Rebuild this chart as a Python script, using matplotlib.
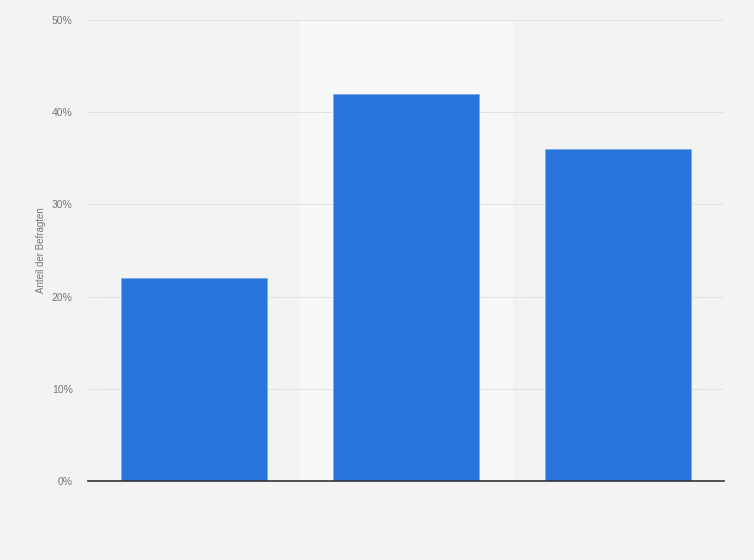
import matplotlib
matplotlib.use("Agg")
import matplotlib.pyplot as plt
from matplotlib.ticker import FuncFormatter

plt.rcParams["font.family"] = ["Liberation Sans", "DejaVu Sans"]

categories = ["A", "B", "C"]
values = [22, 42, 36]
yticks = [0, 10, 20, 30, 40, 50]

bg = "#f3f3f3"
fig = plt.figure(figsize=(7.54, 5.6), dpi=100, facecolor=bg)
ax = fig.add_axes([88/754, 1-481/560, (724-88)/754, (481-20)/560])
ax.set_facecolor(bg)

x = list(range(len(categories)))
ax.axvspan(0.5, 1.5, color="#f8f8f8", zorder=0)
ax.bar(x, values, width=0.69, color="#2775db", edgecolor="#7aaaea", linewidth=0.5, zorder=3)

ax.set_xlim(-0.5, 2.5)
ax.set_ylim(0, 50)
ax.set_yticks(yticks)
ax.yaxis.set_major_formatter(FuncFormatter(lambda v, p: f"{int(v)}%"))
ax.set_xticks([])
ax.tick_params(axis="y", length=0, pad=11, labelsize=7.5, labelcolor="#777777")
for t in yticks[1:]:
    ax.axhline(t, color="#d2d2d2", linestyle=(0, (1, 1)), linewidth=0.7, zorder=1)
for s in ["top", "right", "left"]:
    ax.spines[s].set_visible(False)
ax.spines["bottom"].set_color("#333333")
ax.spines["bottom"].set_linewidth(1.2)
ax.spines["bottom"].set_zorder(4)
ax.set_ylabel("Anteil der Befragten", fontsize=7, color="#777777", labelpad=4)

fig.savefig("out.png", dpi=100, facecolor=bg)
